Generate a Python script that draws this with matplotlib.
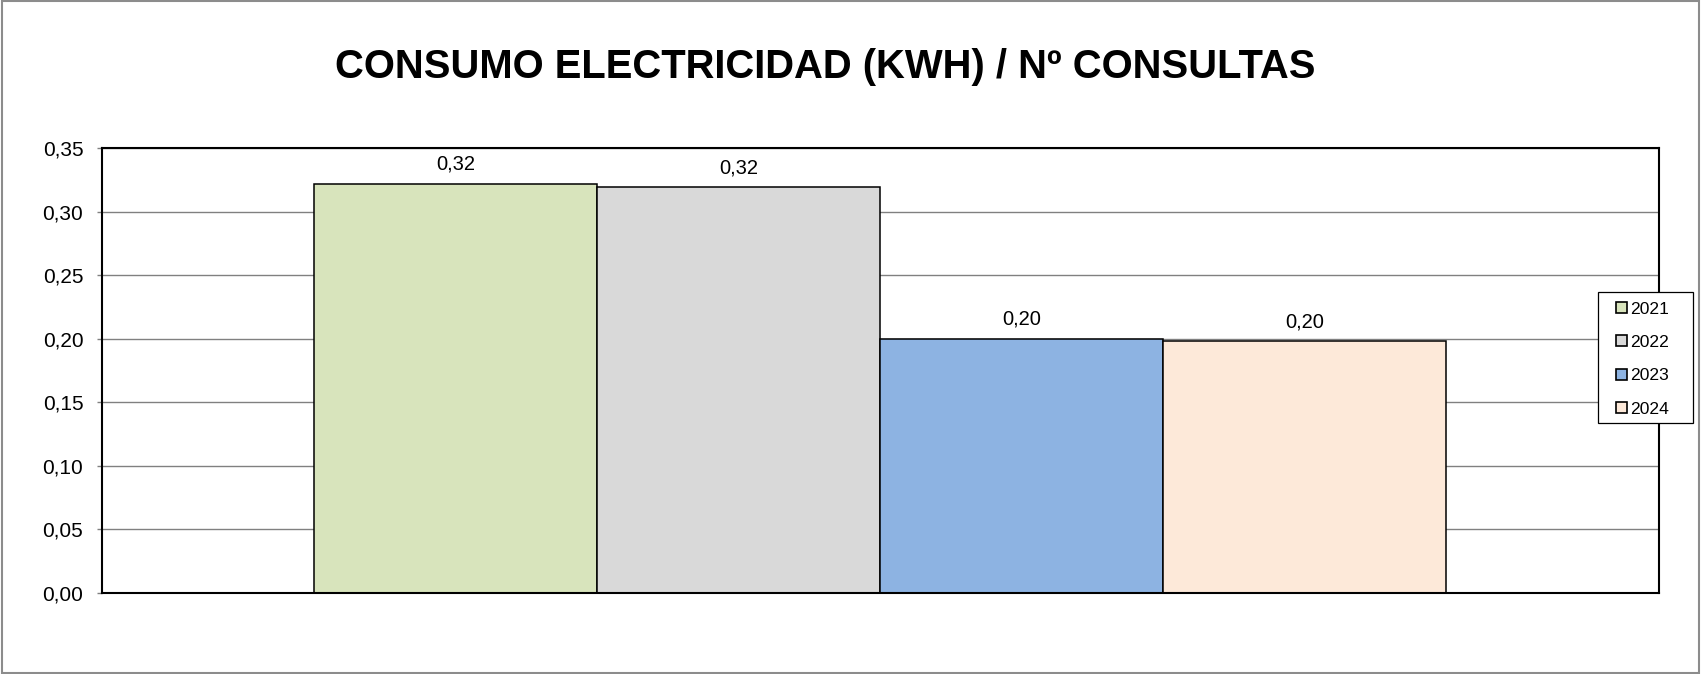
import matplotlib
matplotlib.use("Agg")
import matplotlib.pyplot as plt
from matplotlib.patches import Rectangle
from matplotlib.ticker import FuncFormatter, MultipleLocator

plt.rcParams['font.family'] = ['Liberation Sans', 'DejaVu Sans']

title = "CONSUMO ELECTRICIDAD (KWH) / Nº CONSULTAS"
years = ["2021", "2022", "2023", "2024"]
values = [0.322, 0.319, 0.200, 0.198]
labels = ["0,32", "0,32", "0,20", "0,20"]
colors = ["#D8E4BC", "#D9D9D9", "#8DB3E2", "#FDE9D9"]

W, H = 1703, 674
fig = plt.figure(figsize=(W / 100, H / 100), dpi=100)
ax = fig.add_axes([101.5 / W, 81 / H, (1658.5 - 101.5) / W, (593 - 148) / H])

w = 0.1818
n = len(values)
for i, (yr, v, lab, c) in enumerate(zip(years, values, labels, colors)):
    x = (i - (n - 1) / 2) * w
    ax.bar(x, v, width=w, color=c, edgecolor="black", linewidth=1.1, label=yr, zorder=3)
    ax.text(x, v + 0.008, lab, ha="center", va="bottom", fontsize=14.5, zorder=4)

ax.set_xlim(-0.5, 0.5)
ax.set_ylim(0, 0.35)
ax.yaxis.set_major_locator(MultipleLocator(0.05))
ax.yaxis.set_major_formatter(FuncFormatter(lambda v, p: f"{v:.2f}".replace(".", ",")))
ax.set_xticks([])
ax.tick_params(axis="y", direction="out", length=3.6, width=1.0, color="#808080",
               labelsize=15, pad=9.5)
ax.grid(axis="y", color="#808080", linewidth=1.0, zorder=0)
ax.set_axisbelow(True)
for s in ax.spines.values():
    s.set_color("black")
    s.set_linewidth(1.5)
    s.set_zorder(5)

# legend frame drawn separately (box wider than the legend's own padding)
frame = Rectangle((1598 / W, 1 - 423 / H), 95 / W, 131 / H, transform=fig.transFigure,
                  facecolor="white", edgecolor="black", linewidth=0.9, zorder=20,
                  clip_on=False)
ax.add_patch(frame)
leg = ax.legend(loc="upper left", bbox_to_anchor=(1616 / W, 1 - 301.5 / H),
                bbox_transform=fig.transFigure, frameon=False,
                fontsize=12.6, handlelength=0.6, handleheight=0.6,
                handletextpad=0.2, labelspacing=1.05, borderpad=0, borderaxespad=0)
leg.set_zorder(30)
for h in leg.legend_handles:
    h.set_linewidth(1.2)

fig.text(825.5 / W, 1 - 67 / H, title, ha="center", va="center",
         fontsize=28.8, fontweight="bold")

fig.patches.append(Rectangle((2 / W, 1 / H), 1697 / W, 672 / H, transform=fig.transFigure,
                             fill=False, edgecolor="#8c8c8c", linewidth=1.5))

fig.savefig("out.png", dpi=100)
